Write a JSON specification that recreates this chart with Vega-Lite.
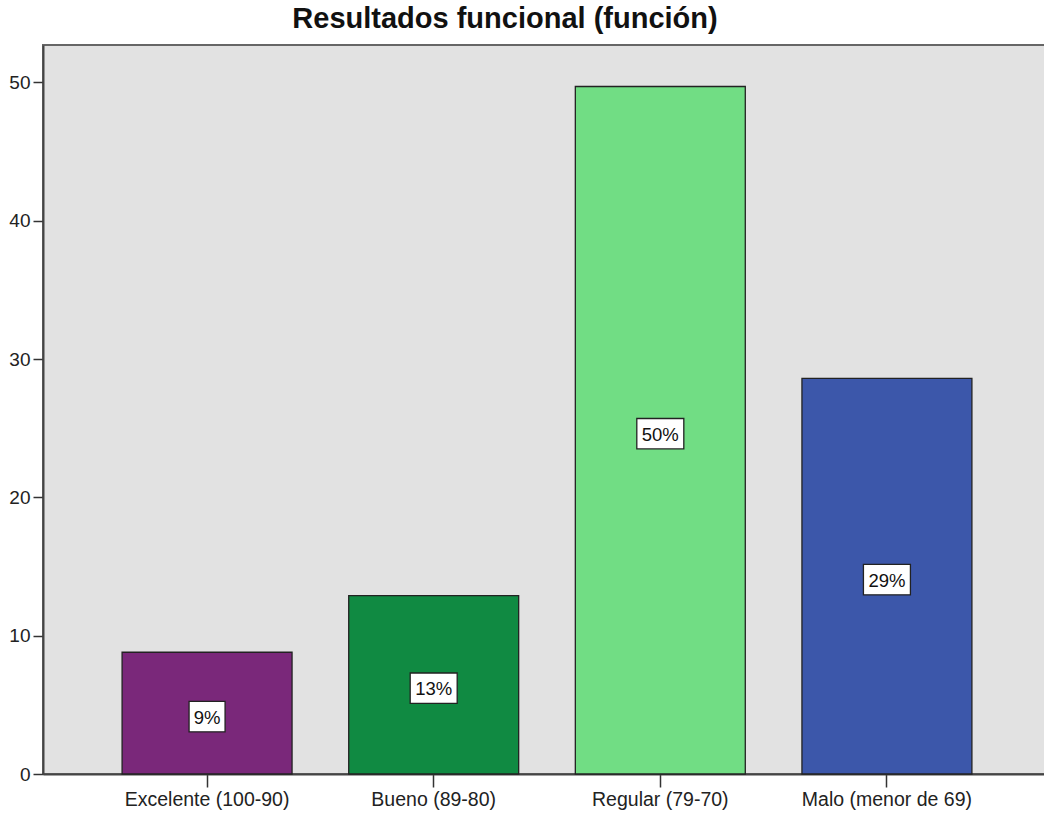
{
  "$schema": "https://vega.github.io/schema/vega-lite/v6.json",
  "autosize": {"type": "none"},
  "width": 1008,
  "height": 729,
  "padding": {"left": 43, "top": 45, "right": 0, "bottom": 42},
  "background": "white",
  "config": {
    "font": "Liberation Sans",
    "view": {"fill": "#e2e2e2", "stroke": "#666666", "strokeWidth": 2}
  },
  "title": {
    "text": "Resultados funcional (función)",
    "font": "Liberation Sans",
    "fontSize": 29,
    "fontWeight": "bold",
    "color": "#111111",
    "anchor": "middle",
    "frame": "group",
    "baseline": "alphabetic",
    "offset": 14,
    "dx": -42,
    "dy": 26
  },
  "data": {
    "values": [
      {"categoria": "Excelente (100-90)", "valor": 8.8, "pct": "9%"},
      {"categoria": "Bueno (89-80)", "valor": 12.9, "pct": "13%"},
      {"categoria": "Regular (79-70)", "valor": 49.7, "pct": "50%"},
      {"categoria": "Malo (menor de 69)", "valor": 28.6, "pct": "29%"}
    ]
  },
  "encoding": {
    "x": {
      "field": "categoria",
      "type": "nominal",
      "sort": null,
      "scale": {"paddingInner": 0.25, "paddingOuter": 0.349},
      "axis": {
        "title": null,
        "labelAngle": 0,
        "labelFontSize": 19.5,
        "labelColor": "#222222",
        "labelPadding": 3,
        "tickSize": 13,
        "tickColor": "#333333",
        "tickWidth": 1.5,
        "domainColor": "#444444",
        "domainWidth": 2
      }
    }
  },
  "layer": [
    {
      "mark": {"type": "bar", "stroke": "#222222", "strokeWidth": 1.3},
      "encoding": {
        "y": {
          "field": "valor",
          "type": "quantitative",
          "scale": {"domain": [0, 52.7], "nice": false},
          "axis": {
            "title": null,
            "values": [0, 10, 20, 30, 40, 50],
            "grid": false,
            "labelFontSize": 19,
            "labelColor": "#222222",
            "labelPadding": 3,
            "tickSize": 10,
            "tickColor": "#333333",
            "tickWidth": 1.5,
            "domainColor": "#444444",
            "domainWidth": 2
          }
        },
        "color": {
          "field": "categoria",
          "type": "nominal",
          "scale": {
            "domain": ["Excelente (100-90)", "Bueno (89-80)", "Regular (79-70)", "Malo (menor de 69)"],
            "range": ["#7a287a", "#108a42", "#71dd84", "#3c57aa"]
          },
          "legend": null
        }
      }
    },
    {
      "transform": [
        {"calculate": "datum.valor / 2 - 1.35", "as": "lo"},
        {"calculate": "datum.valor / 2 + 0.85", "as": "hi"}
      ],
      "mark": {"type": "bar", "fill": "white", "stroke": "#222222", "strokeWidth": 1.3},
      "encoding": {
        "y": {"field": "lo", "type": "quantitative"},
        "y2": {"field": "hi"},
        "size": {
          "field": "pct",
          "type": "nominal",
          "scale": {"type": "ordinal", "domain": ["9%", "13%", "50%", "29%"], "range": [36, 47, 47, 47]},
          "legend": null
        }
      }
    },
    {
      "transform": [
        {"calculate": "datum.valor / 2 - 0.25", "as": "mid"}
      ],
      "mark": {"type": "text", "fontSize": 18.5, "color": "#111111", "baseline": "middle", "align": "center", "dy": 1},
      "encoding": {
        "y": {"field": "mid", "type": "quantitative"},
        "text": {"field": "pct"}
      }
    }
  ]
}
